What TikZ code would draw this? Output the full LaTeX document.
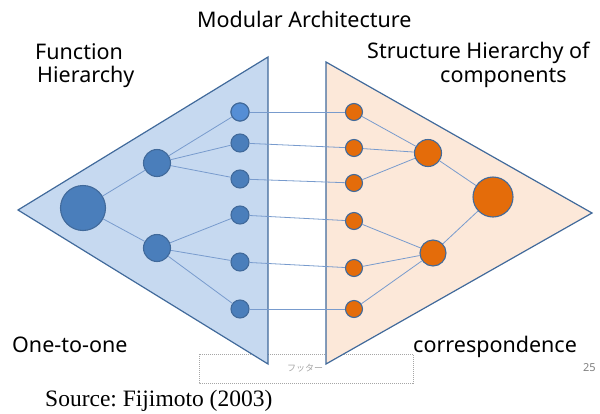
\documentclass[tikz,border=0pt]{standalone}
\usepackage{fontspec}
\setmainfont{Noto Sans}
\newfontfamily\timesfont{Liberation Serif}
\newfontfamily\jpfont{Noto Sans CJK JP}
\frenchspacing
\definecolor{funcfill}{RGB}{198,217,240}
\definecolor{strfill}{RGB}{252,232,217}
\definecolor{edgeblue}{RGB}{65,106,155}
\definecolor{nodeblue}{RGB}{74,126,187}
\definecolor{nodelight}{RGB}{85,142,213}
\definecolor{nodeorange}{RGB}{228,108,10}
\definecolor{linkblue}{RGB}{120,155,205}
\tikzset{x=1pt, y=-1pt}
\tikzset{
  fnode/.style={circle, draw=edgeblue, line width=1.1pt, fill=nodeblue, inner sep=0pt},
  snode/.style={circle, draw=edgeblue, line width=1.1pt, fill=nodeorange, inner sep=0pt},
  link/.style={draw=linkblue, line width=0.8pt},
  lbl/.style={anchor=base west, inner sep=0pt, font=\fontsize{21.5}{24}\selectfont}
}
\begin{document}
\begin{tikzpicture}
\useasboundingbox (0,0) rectangle (600,413);
% footer box (behind the triangles)
\draw[gray!70, dash pattern=on 1pt off 1pt, line width=0.5pt] (199,354) rectangle (413,383);
\node[inner sep=0pt, text=gray!70, font=\jpfont\fontsize{9}{10}\selectfont] (footer) at (305,368) {フッター};
% the two hierarchies
\draw[edgeblue, line width=1.2pt, fill=funcfill] (18,210) -- (268,57) -- (268,364) -- cycle;
\draw[edgeblue, line width=1.2pt, fill=strfill] (326,62) -- (592,213) -- (326,364) -- cycle;
% function side
\node[fnode, minimum size=45pt] (fbig) at (83,208) {};
\node[fnode, minimum size=27pt] (fup) at (157,163) {};
\node[fnode, minimum size=27pt] (flo) at (157,248) {};
\foreach \i/\y in {1/112,2/143,3/179,4/215,5/262,6/309} % edit here for the small nodes
\node[fnode, minimum size=18pt] (f\i) at (240,\y) {};
\node[fnode, fill=nodelight, minimum size=18pt] at (f1) {};
% structure side
\node[snode, minimum size=40pt] (sbig) at (493,197) {};
\node[snode, minimum size=27pt] (sup) at (428,153) {};
\node[snode, minimum size=26pt] (slo) at (433,253) {};
\foreach \i/\y in {1/112,2/148,3/183,4/221,5/268,6/309}
\node[snode, minimum size=17pt] (s\i) at (354,\y) {};
% tree links
\draw[link] (fbig) -- (fup) (fbig) -- (flo) (sup) -- (sbig) (slo) -- (sbig);
\foreach \i in {1,2,3} {
\draw[link] (fup) -- (f\i);
\draw[link] (s\i) -- (sup);
}
\foreach \i in {4,5,6} {
\draw[link] (flo) -- (f\i);
\draw[link] (s\i) -- (slo);
}
% one-to-one links
\foreach \i in {1,...,6}
\draw[link] (f\i) -- (s\i);
% labels
\node[lbl] (title) at (197,27) {Modular Architecture};
\node[lbl] (func1) at (35,59) {Function};
\node[lbl] (func2) at (37,82) {Hierarchy};
\node[lbl] (str1) at (367,58) {Structure Hierarchy of};
\node[lbl] (str2) at (440,82) {components};
\node[lbl] (one) at (12,352) {One-to-one};
\node[lbl] (corr) at (413,352) {correspondence};
\node[anchor=base west, inner sep=0pt, font=\timesfont\fontsize{23.5}{26}\selectfont] (src) at (45,406) {Source: Fijimoto (2003)};
\node[anchor=base west, inner sep=0pt, text=gray, font=\fontsize{11}{12}\selectfont] (page) at (583,371) {25};
\end{tikzpicture}
\end{document}
